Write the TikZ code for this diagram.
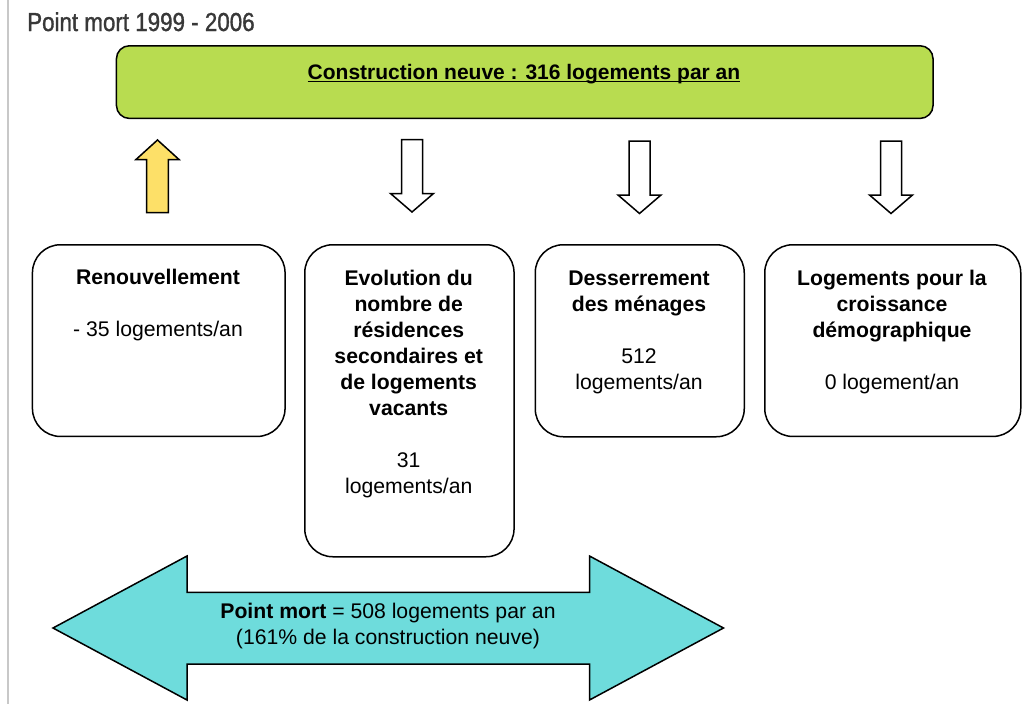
\documentclass[tikz,border=0pt]{standalone}
\usepackage{fontspec}
\setmainfont{Liberation Sans}
\newfontfamily\titlefont[FakeStretch=0.86,FakeBold=1.2]{Liberation Sans}
\definecolor{barg}{HTML}{B8DC50}
\definecolor{upy}{HTML}{FDE068}
\definecolor{cyanf}{HTML}{6EDCDC}
\definecolor{edgegray}{HTML}{C8C8C8}
\definecolor{titlegray}{HTML}{383838}
\begin{document}
\begin{tikzpicture}[x=1pt,y=-1pt,
  box/.style={draw=black, line width=1.5pt, rounded corners=28pt, inner sep=0pt, anchor=north west},
  boxtext/.style={anchor=north, align=center, inner sep=0pt, font=\fontsize{21.2}{26}\selectfont},
  blockarr/.style={draw=black, line width=1.5pt, line join=miter},
  downarr/.pic={\draw[blockarr, fill=white] (-10.5,0) -- (10.5,0) -- (10.5,54) -- (21.5,54) -- (0,72.5) -- (-21.5,54) -- (-10.5,54) -- cycle;}
]
\useasboundingbox (0,0) rectangle (1028,704);
\draw[edgegray, line width=2pt] (8,0) -- (8,704);
\node[anchor=base west, inner sep=0pt, text=titlegray, font=\titlefont\fontsize{26}{30}\selectfont] (title) at (27,31) {Point mort 1999 - 2006};

% top bar
\node[draw=black, fill=barg, line width=1.5pt, rounded corners=13pt, minimum width=816.6pt, minimum height=72.7pt, inner sep=0pt, anchor=north west] (bar) at (115.7,45) {};
\node[anchor=base, inner sep=0pt, font=\bfseries\fontsize{21}{26}\selectfont] (bartxt) at (524,79.5) {Construction neuve : 316 logements par an};
\draw[line width=1.3pt] ([yshift=-2.3pt]bartxt.base west) -- ([yshift=-2.3pt]bartxt.base east);

% arrows
\draw[blockarr, fill=upy] (157.5,140) -- (179,159.5) -- (168.3,159.5) -- (168.3,212.7) -- (146.5,212.7) -- (146.5,159.5) -- (136,159.5) -- cycle;
\pic at (412,139.5) {downarr};
\pic at (639.5,141) {downarr};
\pic at (891,141) {downarr};

% boxes
\node[box, minimum width=252.6pt, minimum height=191.7pt] (b1) at (31.7,244) {};
\node[box, minimum width=209.3pt, minimum height=312pt] (b2) at (304,244) {};
\node[box, minimum width=209pt, minimum height=192pt] (b3) at (534.5,244) {};
\node[box, minimum width=256pt, minimum height=191.7pt] (b4) at (764,244) {};

\node[boxtext] (t1) at (158,266.3) {\strut\textbf{Renouvellement}\\[26pt]- 35 logements/an};
\node[boxtext] (t2) at (408.7,266.8) {\strut\textbf{Evolution du}\\\textbf{nombre de}\\\textbf{résidences}\\\textbf{secondaires et}\\\textbf{de logements}\\\textbf{vacants}\\[26pt]31\\logements/an};
\node[boxtext] (t3) at (639,266.8) {\strut\textbf{Desserrement}\\\textbf{des ménages}\\[26pt]512\\logements/an};
\node[boxtext] (t4) at (892,266.8) {\strut\textbf{Logements pour la}\\\textbf{croissance}\\\textbf{démographique}\\[26pt]0 logement/an};

% double arrow
\draw[blockarr, fill=cyanf] (53,628) -- (187,556) -- (187,592.3) -- (589.5,592.3) -- (589.5,556) -- (723.5,628) -- (589.5,700) -- (589.5,664) -- (187,664) -- (187,700) -- cycle;
\node[align=center, inner sep=0pt, font=\fontsize{21.2}{26}\selectfont] (pmtxt) at (388,626) {\textbf{Point mort} = 508 logements par an\\(161\% de la construction neuve)};
\end{tikzpicture}
\end{document}
